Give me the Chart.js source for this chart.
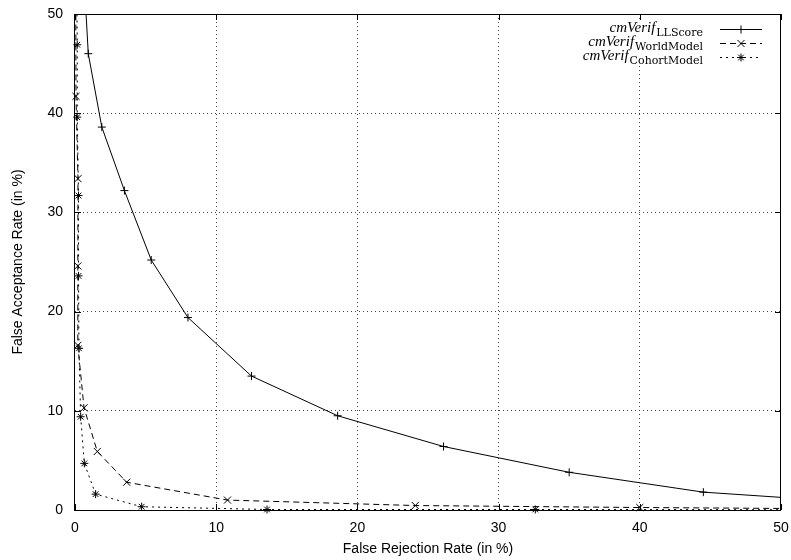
<!DOCTYPE html>
<html>
<head>
<meta charset="utf-8">
<script src="https://cdn.jsdelivr.net/npm/chart.js@4.4.0/dist/chart.umd.min.js"></script>
<style>
  body { margin: 0; background: #fff; }
  canvas { display: block; }
</style>
</head>
<body>
<canvas id="grafico" width="791" height="560"></canvas>
<script>
// valores (x = False Rejection Rate, y = False Acceptance Rate)
const llScoreX = [0.55, 0.94, 1.9, 3.5, 5.4, 8.0, 12.5, 18.6, 26.1, 35.0, 44.5, 56]
const llScoreY = [56, 46.0, 38.6, 32.2, 25.2, 19.4, 13.5, 9.5, 6.4, 3.8, 1.8, 0.7]

const worldX = [0.05, 0.07, 0.21, 0.2, 0.2, 0.64, 1.58, 3.66, 10.8, 24.1, 40.0, 56]
const worldY = [56, 41.7, 33.4, 24.6, 16.6, 10.3, 5.9, 2.8, 1.0, 0.45, 0.25, 0.1]

const cohortX = [0.1, 0.16, 0.16, 0.25, 0.25, 0.28, 0.4, 0.66, 1.46, 4.72, 13.6, 32.6, 56]
const cohortY = [56, 46.9, 39.6, 31.7, 23.6, 16.3, 9.4, 4.7, 1.6, 0.33, 0.05, 0.05, 0.02]

const ticksX = [0, 10, 20, 30, 40, 50]
const ticksY = [0, 10, 20, 30, 40, 50]

const nomes = ['LLScore', 'WorldModel', 'CohortModel']

function pontos(xs, ys) {
  return xs.map((x, i) => ({ x: x, y: ys[i] }))
}

const fonte = { family: "'Liberation Sans', Arial, sans-serif", size: 14 }

function serie(nome, xs, ys, estilo, raio, tracejado) {
  return {
    label: nome,
    data: pontos(xs, ys),
    showLine: true,
    borderColor: '#000',
    backgroundColor: '#000',
    borderWidth: 1,
    borderDash: tracejado,
    tension: 0,
    pointStyle: estilo,
    pointRadius: raio,
    pointBorderWidth: 1,
    clip: { left: 6, top: 0, right: 0, bottom: 6 }
  }
}

// moldura com os tracinhos para dentro, como no gnuplot
const moldura = {
  id: 'moldura',
  afterDraw(chart) {
    const c = chart.ctx
    const a = chart.chartArea
    const sx = chart.scales.x
    const sy = chart.scales.y
    c.save()
    c.strokeStyle = '#000'
    c.lineWidth = 1
    c.setLineDash([])
    c.beginPath()
    ticksX.forEach(v => {
      const px = Math.round(sx.getPixelForValue(v)) + 0.5
      c.moveTo(px, a.bottom); c.lineTo(px, a.bottom - 6)
      c.moveTo(px, a.top); c.lineTo(px, a.top + 6)
    })
    ticksY.forEach(v => {
      const py = Math.round(sy.getPixelForValue(v)) + 0.5
      c.moveTo(a.left, py); c.lineTo(a.left + 6, py)
      c.moveTo(a.right, py); c.lineTo(a.right - 6, py)
    })
    c.stroke()
    c.strokeRect(a.left - 0.5, a.top + 0.5, a.right - a.left, a.bottom - a.top)
    c.restore()
  }
}

// legenda com subscrito, desenhada à mão
const legenda = {
  id: 'legenda',
  afterDatasetsDraw(chart) {
    const c = chart.ctx
    c.save()
    c.fillStyle = '#fff'
    c.fillRect(594, 21, 180, 45)
    const linhas = [29, 43, 57]
    chart.data.datasets.forEach((ds, i) => {
      const y = linhas[i]
      const fim = 703
      c.fillStyle = '#000'
      c.textBaseline = 'alphabetic'
      c.textAlign = 'right'
      c.font = "11px 'DejaVu Serif', serif"
      c.fillText(nomes[i], fim, y + 7)
      const larg = c.measureText(nomes[i]).width
      c.font = "italic 15px 'Liberation Serif', serif"
      c.fillText('cmVerif', fim - larg - 1, y + 3)
      // amostra da linha
      c.strokeStyle = '#000'
      c.lineWidth = 1
      c.setLineDash(ds.borderDash || [])
      c.beginPath()
      c.moveTo(720, y + 0.5)
      c.lineTo(762, y + 0.5)
      c.stroke()
      c.setLineDash([])
      Chart.helpers.drawPoint(c, { pointStyle: ds.pointStyle, radius: ds.pointRadius, borderWidth: 1, rotation: 0 }, 741, y + 0.5)
    })
    c.restore()
  }
}

new Chart(document.getElementById('grafico'), {
  type: 'scatter',
  data: {
    datasets: [
      serie('cmVerif LLScore', llScoreX, llScoreY, 'cross', 4, []),
      serie('cmVerif WorldModel', worldX, worldY, 'crossRot', 5, [6, 4]),
      serie('cmVerif CohortModel', cohortX, cohortY, 'star', 4, [2, 4])
    ]
  },
  options: {
    responsive: false,
    animation: false,
    layout: { padding: { top: 14, right: 10, left: 0, bottom: 0 } },
    plugins: {
      legend: { display: false },
      tooltip: { enabled: false }
    },
    scales: {
      x: {
        type: 'linear',
        min: 0,
        max: 50,
        afterBuildTicks(s) { s.ticks = ticksX.map(v => ({ value: v })) },
        afterFit(s) { s.height = 50; s.paddingLeft = 0; s.paddingRight = 0 },
        ticks: { color: '#000', font: fonte, padding: 10, maxRotation: 0 },
        grid: {
          drawTicks: false,
          lineWidth: 1,
          color: c => (c.tick && (c.tick.value === 0 || c.tick.value === 50)) ? 'rgba(0,0,0,0)' : '#444'
        },
        border: { display: false, dash: [1, 3] },
        title: { display: true, text: 'False Rejection Rate (in %)', color: '#000', font: fonte, padding: { top: 0, bottom: 2 } }
      },
      y: {
        type: 'linear',
        min: 0,
        max: 50,
        afterBuildTicks(s) { s.ticks = ticksY.map(v => ({ value: v })) },
        afterFit(s) { s.width = 75; s.paddingTop = 0; s.paddingBottom = 0 },
        ticks: { color: '#000', font: fonte, padding: 12 },
        grid: {
          drawTicks: false,
          lineWidth: 1,
          color: c => (c.tick && (c.tick.value === 0 || c.tick.value === 50)) ? 'rgba(0,0,0,0)' : '#444'
        },
        border: { display: false, dash: [1, 3] },
        title: { display: true, text: 'False Acceptance Rate (in %)', color: '#000', font: fonte, padding: { top: 10, bottom: 0 } }
      }
    }
  },
  plugins: [moldura, legenda]
})
</script>
</body>
</html>
